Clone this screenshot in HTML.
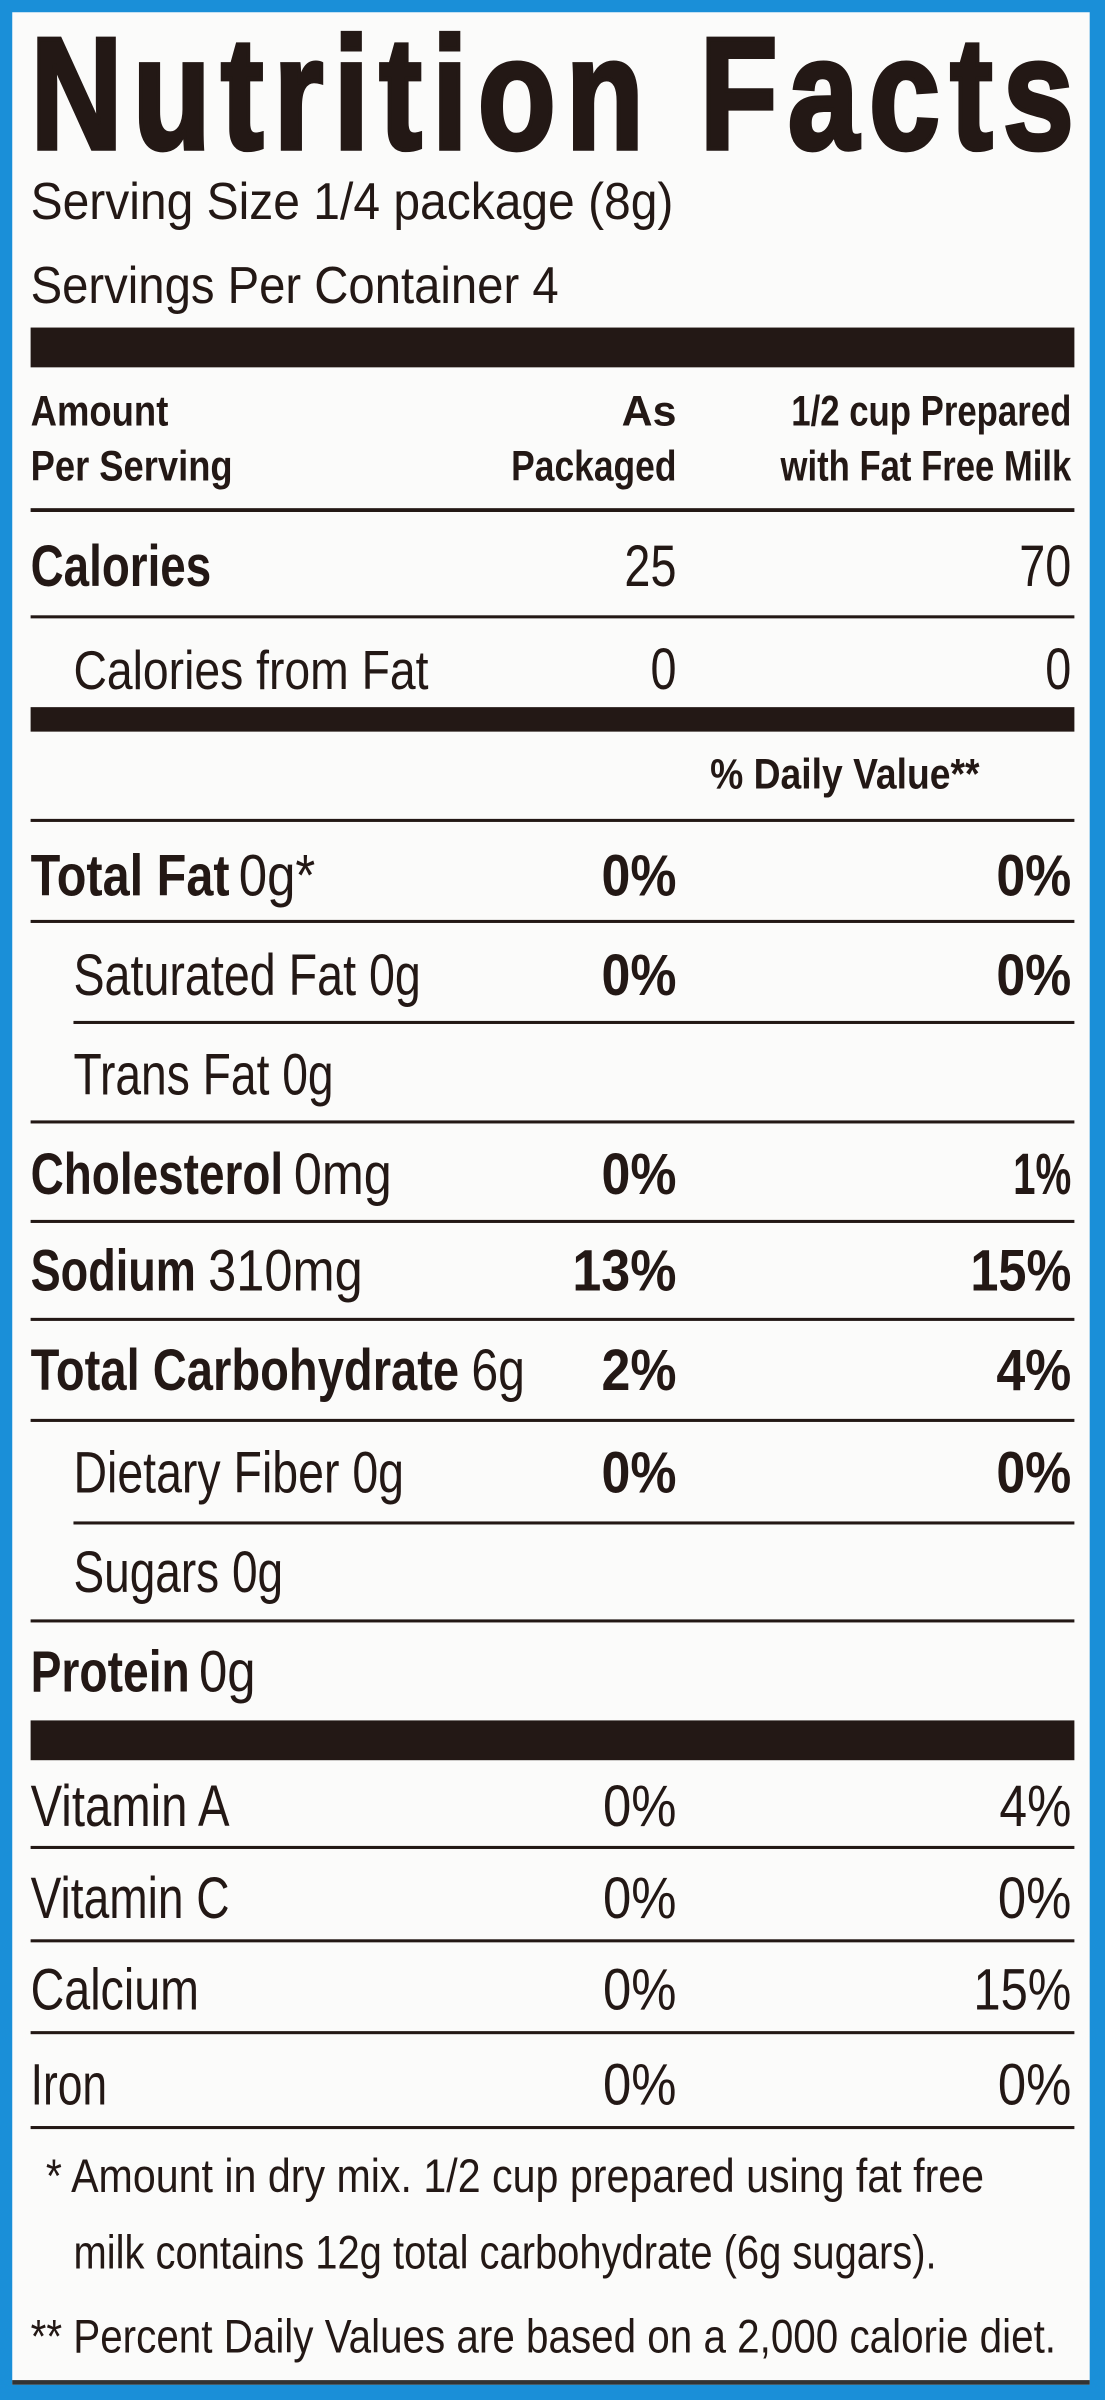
<!DOCTYPE html>
<html><head><meta charset="utf-8"><style>
html,body{margin:0;padding:0;background:#fff;}
svg{display:block;}
text{font-family:"Liberation Sans Narrow","Liberation Sans",sans-serif;fill:#231815;}
.b{font-weight:bold;}
</style></head><body>
<svg width="1105" height="2400" viewBox="0 0 722 1568" preserveAspectRatio="none" xmlns="http://www.w3.org/2000/svg">
<rect x="0" y="0" width="722" height="1568" fill="#1a8fd8"/>
<rect x="8" y="8" width="704" height="1550" fill="#fbfbfa"/>
<rect x="8" y="1555" width="704" height="3" fill="#333"/>
<g transform="scale(0.8,1)">
<text x="25" y="97" font-size="104" class="b" style="stroke:#231815;stroke-width:3" textLength="852" lengthAdjust="spacing">Nutrition Facts</text>
</g>
<text x="20" y="143" font-size="34" textLength="420" lengthAdjust="spacingAndGlyphs">Serving Size 1/4 package (8g)</text>
<text x="20" y="198" font-size="34" textLength="345" lengthAdjust="spacingAndGlyphs">Servings Per Container 4</text>
<rect x="20" y="214" width="682" height="26" fill="#231815"/>
<text x="20" y="278" font-size="28" class="b" textLength="90" lengthAdjust="spacingAndGlyphs">Amount</text>
<text x="20" y="314" font-size="28" class="b" textLength="132" lengthAdjust="spacingAndGlyphs">Per Serving</text>
<text x="442" y="278" font-size="28" class="b" text-anchor="end">As</text>
<text x="334" y="314" font-size="28" class="b" textLength="108" lengthAdjust="spacingAndGlyphs">Packaged</text>
<text x="517" y="278" font-size="28" class="b" textLength="183" lengthAdjust="spacingAndGlyphs">1/2 cup Prepared</text>
<text x="510" y="314" font-size="28" class="b" textLength="190" lengthAdjust="spacingAndGlyphs">with Fat Free Milk</text>
<rect x="20" y="332" width="682" height="2.5" fill="#231815"/>
<text x="20" y="383" font-size="38" class="b" textLength="118" lengthAdjust="spacingAndGlyphs">Calories</text>
<text x="408" y="383" font-size="38" textLength="34" lengthAdjust="spacingAndGlyphs">25</text>
<text x="666" y="383" font-size="38" textLength="34" lengthAdjust="spacingAndGlyphs">70</text>
<rect x="20" y="402" width="682" height="2" fill="#231815"/>
<text x="48" y="450" font-size="36" textLength="232" lengthAdjust="spacingAndGlyphs">Calories from Fat</text>
<text x="425" y="450" font-size="38" textLength="17" lengthAdjust="spacingAndGlyphs">0</text>
<text x="683" y="450" font-size="38" textLength="17" lengthAdjust="spacingAndGlyphs">0</text>
<rect x="20" y="462" width="682" height="16" fill="#231815"/>
<text x="464" y="515" font-size="28" class="b" textLength="176" lengthAdjust="spacingAndGlyphs">% Daily Value**</text>
<rect x="20" y="535" width="682" height="2" fill="#231815"/>
<g font-size="38">
<text x="20" y="585" class="b" textLength="130" lengthAdjust="spacingAndGlyphs">Total Fat</text>
<text x="156" y="585" textLength="50" lengthAdjust="spacingAndGlyphs">0g*</text>
<text x="393" y="585" class="b" textLength="49" lengthAdjust="spacingAndGlyphs">0%</text>
<text x="651" y="585" class="b" textLength="49" lengthAdjust="spacingAndGlyphs">0%</text>
<rect x="20" y="601" width="682" height="2" fill="#231815"/>
<text x="48" y="650" textLength="227" lengthAdjust="spacingAndGlyphs">Saturated Fat 0g</text>
<text x="393" y="650" class="b" textLength="49" lengthAdjust="spacingAndGlyphs">0%</text>
<text x="651" y="650" class="b" textLength="49" lengthAdjust="spacingAndGlyphs">0%</text>
<rect x="48" y="667" width="654" height="2" fill="#231815"/>
<text x="48" y="715" textLength="170" lengthAdjust="spacingAndGlyphs">Trans Fat 0g</text>
<rect x="20" y="732" width="682" height="2" fill="#231815"/>
<text x="20" y="780" class="b" textLength="165" lengthAdjust="spacingAndGlyphs">Cholesterol</text>
<text x="192" y="780" textLength="64" lengthAdjust="spacingAndGlyphs">0mg</text>
<text x="393" y="780" class="b" textLength="49" lengthAdjust="spacingAndGlyphs">0%</text>
<text x="662" y="780" class="b" textLength="38" lengthAdjust="spacingAndGlyphs">1%</text>
<rect x="20" y="797" width="682" height="2" fill="#231815"/>
<text x="20" y="843" class="b" textLength="108" lengthAdjust="spacingAndGlyphs">Sodium</text>
<text x="136" y="843" textLength="101" lengthAdjust="spacingAndGlyphs">310mg</text>
<text x="374" y="843" class="b" textLength="68" lengthAdjust="spacingAndGlyphs">13%</text>
<text x="634" y="843" class="b" textLength="66" lengthAdjust="spacingAndGlyphs">15%</text>
<rect x="20" y="861" width="682" height="2" fill="#231815"/>
<text x="20" y="908" class="b" textLength="280" lengthAdjust="spacingAndGlyphs">Total Carbohydrate</text>
<text x="308" y="908" textLength="35" lengthAdjust="spacingAndGlyphs">6g</text>
<text x="393" y="908" class="b" textLength="49" lengthAdjust="spacingAndGlyphs">2%</text>
<text x="651" y="908" class="b" textLength="49" lengthAdjust="spacingAndGlyphs">4%</text>
<rect x="20" y="927" width="682" height="2" fill="#231815"/>
<text x="48" y="975" textLength="216" lengthAdjust="spacingAndGlyphs">Dietary Fiber 0g</text>
<text x="393" y="975" class="b" textLength="49" lengthAdjust="spacingAndGlyphs">0%</text>
<text x="651" y="975" class="b" textLength="49" lengthAdjust="spacingAndGlyphs">0%</text>
<rect x="48" y="994" width="654" height="2" fill="#231815"/>
<text x="48" y="1040" textLength="137" lengthAdjust="spacingAndGlyphs">Sugars 0g</text>
<rect x="20" y="1058" width="682" height="2" fill="#231815"/>
<text x="20" y="1105" class="b" textLength="104" lengthAdjust="spacingAndGlyphs">Protein</text>
<text x="130" y="1105" textLength="37" lengthAdjust="spacingAndGlyphs">0g</text>
</g>
<rect x="20" y="1124" width="682" height="26" fill="#231815"/>
<g font-size="38">
<text x="20" y="1193" textLength="130" lengthAdjust="spacingAndGlyphs">Vitamin A</text>
<text x="394" y="1193" textLength="48" lengthAdjust="spacingAndGlyphs">0%</text>
<text x="653" y="1193" textLength="47" lengthAdjust="spacingAndGlyphs">4%</text>
<rect x="20" y="1206" width="682" height="2" fill="#231815"/>
<text x="20" y="1253" textLength="130" lengthAdjust="spacingAndGlyphs">Vitamin C</text>
<text x="394" y="1253" textLength="48" lengthAdjust="spacingAndGlyphs">0%</text>
<text x="652" y="1253" textLength="48" lengthAdjust="spacingAndGlyphs">0%</text>
<rect x="20" y="1267" width="682" height="2" fill="#231815"/>
<text x="20" y="1313" textLength="110" lengthAdjust="spacingAndGlyphs">Calcium</text>
<text x="394" y="1313" textLength="48" lengthAdjust="spacingAndGlyphs">0%</text>
<text x="636" y="1313" textLength="64" lengthAdjust="spacingAndGlyphs">15%</text>
<rect x="20" y="1327" width="682" height="2" fill="#231815"/>
<text x="20" y="1375" textLength="50" lengthAdjust="spacingAndGlyphs">Iron</text>
<text x="394" y="1375" textLength="48" lengthAdjust="spacingAndGlyphs">0%</text>
<text x="652" y="1375" textLength="48" lengthAdjust="spacingAndGlyphs">0%</text>
<rect x="20" y="1389" width="682" height="2" fill="#231815"/>
</g>
<g font-size="31">
<text x="30" y="1432" textLength="613" lengthAdjust="spacingAndGlyphs">* Amount in dry mix. 1/2 cup prepared using fat free</text>
<text x="48" y="1482" textLength="564" lengthAdjust="spacingAndGlyphs">milk contains 12g total carbohydrate (6g sugars).</text>
<text x="20" y="1537" textLength="670" lengthAdjust="spacingAndGlyphs">** Percent Daily Values are based on a 2,000 calorie diet.</text>
</g>
</svg>
</body></html>
